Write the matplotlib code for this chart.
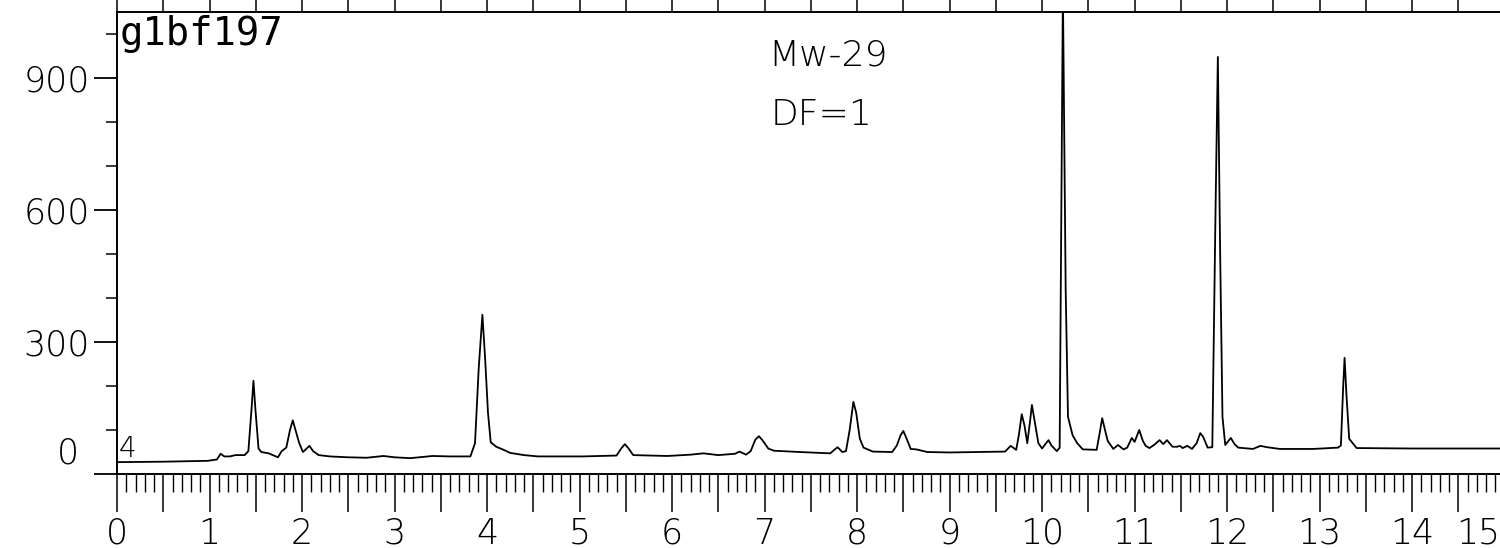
import numpy as np
import matplotlib
matplotlib.use("Agg")
import matplotlib.pyplot as plt
from matplotlib.ticker import MultipleLocator

# retention time (min) and detector response
time = [
    0.00, 0.50, 0.98, 1.08, 1.12, 1.16, 1.22, 1.28, 1.38, 1.42, 1.455, 1.475,
    1.495, 1.53, 1.56, 1.64, 1.74, 1.78, 1.83, 1.87, 1.90, 1.93, 1.97, 2.01,
    2.05, 2.08, 2.12, 2.18, 2.30, 2.50, 2.70, 2.88, 3.00, 3.17, 3.41, 3.60,
    3.82, 3.87, 3.91, 3.95, 3.98, 4.01, 4.04, 4.10, 4.18, 4.25, 4.40, 4.55,
    5.04, 5.40, 5.45, 5.49, 5.53, 5.58, 5.95, 6.20, 6.34, 6.50, 6.68, 6.73,
    6.80, 6.85, 6.90, 6.94, 6.98, 7.04, 7.10, 7.38, 7.71, 7.76, 7.79, 7.84,
    7.88, 7.92, 7.96, 7.99, 8.03, 8.07, 8.17, 8.38, 8.43, 8.47, 8.50, 8.54,
    8.58, 8.64, 8.76, 9.00, 9.33, 9.60, 9.66, 9.72, 9.75, 9.78, 9.81, 9.84,
    9.87, 9.89, 9.92, 9.96, 10.00, 10.05, 10.07, 10.10, 10.16, 10.19, 10.225,
    10.255, 10.28, 10.33, 10.38, 10.44, 10.59, 10.62, 10.65, 10.68, 10.71,
    10.77, 10.82, 10.88, 10.92, 10.97, 11.00, 11.05, 11.09, 11.12, 11.16,
    11.21, 11.27, 11.31, 11.35, 11.41, 11.46, 11.49, 11.52, 11.57, 11.62,
    11.67, 11.71, 11.74, 11.79, 11.84, 11.875, 11.90, 11.925, 11.95, 11.98,
    12.04, 12.08, 12.12, 12.28, 12.36, 12.43, 12.57, 12.93, 13.20, 13.23,
    13.255, 13.27, 13.29, 13.32, 13.40, 14.00, 14.95,
]
signal = [
    27, 28, 30, 33, 46, 40, 40, 43, 43, 52, 150, 212,
    150, 58, 50, 47, 38, 52, 60, 100, 122, 100, 70, 50,
    58, 64, 52, 43, 40, 38, 37, 41, 38, 36, 41, 40,
    40, 70, 240, 362, 260, 140, 72, 62, 55, 48, 43, 40,
    40, 42, 58, 68, 58, 43, 41, 44, 47, 43, 46, 51,
    44, 52, 78, 86, 76, 58, 53, 50, 47, 56, 61, 50,
    52, 100, 164, 140, 80, 60, 51, 50, 65, 88, 98, 78,
    57, 56, 50, 49, 50, 51, 64, 55, 90, 136, 110, 70,
    120, 157, 120, 70, 58, 72, 77, 65, 52, 60, 1100,
    420, 130, 88, 70, 56, 55, 90, 127, 100, 75,
    57, 66, 56, 60, 82, 73, 100, 75, 64, 59,
    66, 77, 68, 77, 62, 62, 64, 59, 64, 57,
    70, 93, 85, 60, 61, 600, 948, 500, 130, 66,
    82, 68, 60, 57, 64, 61, 57, 57, 60, 65,
    200, 264, 180, 80, 59, 58, 58,
]

y_ticks = [0, 300, 600, 900]
x_labels = list(range(0, 15))

plt.rcParams['font.family'] = ['DejaVu Sans']

fig = plt.figure(figsize=(15, 5.48), dpi=100)
ax = fig.add_axes([0.078, 0.135, 0.922, 0.843])

ax.plot(time, signal, color='black', linewidth=1.3)

ax.set_xlim(0, 14.95)
ax.set_ylim(0, 1050)

ax.xaxis.set_major_locator(MultipleLocator(0.5))
ax.xaxis.set_minor_locator(MultipleLocator(0.1))
ax.set_xticklabels([])
for t in x_labels:
    ax.text(t, -0.092, str(t), transform=ax.get_xaxis_transform(),
            ha='center', va='top', fontsize=25, fontweight='light')
ax.text(14.71, -0.092, '15', transform=ax.get_xaxis_transform(),
        ha='center', va='top', fontsize=25, fontweight='light')

ax.set_yticks(y_ticks)
ax.set_yticklabels(['', '300', '600', '900'], fontsize=25, fontweight='light')
ax.yaxis.set_minor_locator(MultipleLocator(100))
ax.annotate('0', xy=(0, 0), xycoords=('axes fraction', 'data'),
            xytext=(-27, 15), textcoords='offset points',
            ha='right', va='center', fontsize=25, fontweight='light')

ax.tick_params(axis='x', which='major', direction='out', length=27, width=1.1,
               top=True, bottom=True)
ax.tick_params(axis='x', which='minor', direction='out', length=13, width=1.0,
               top=False)
ax.tick_params(axis='y', which='major', direction='out', length=16.5, width=1.3,
               pad=3)
ax.tick_params(axis='y', which='minor', direction='out', length=8, width=1.1)

for side in ['left', 'bottom', 'top']:
    ax.spines[side].set_linewidth(1.4)
ax.spines['right'].set_visible(False)

# labels written on the chart
ax.text(0.002, 0.993, 'g1bf197', transform=ax.transAxes, ha='left', va='top',
        fontsize=28, family='DejaVu Sans Mono', fontweight='light')
ax.text(0.02, 26, '4', ha='left', va='bottom', fontsize=20, fontweight='light')
ax.text(7.69, 952, 'Mw-29', ha='center', va='center', fontsize=26,
        fontweight='light')
ax.text(7.62, 816, 'DF=1', ha='center', va='center', fontsize=26,
        fontweight='light')

fig.savefig('out.png', dpi=100)
